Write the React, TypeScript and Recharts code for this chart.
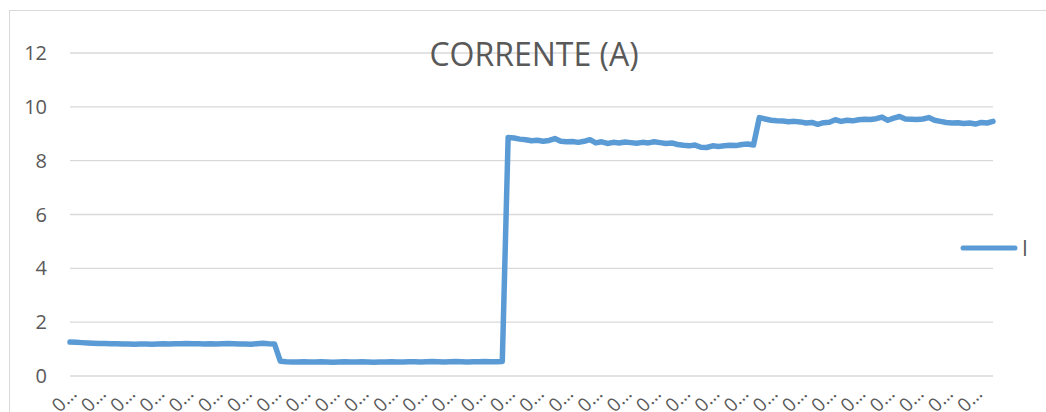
import React from "react";
import { LineChart, Line, XAxis, YAxis, CartesianGrid, Legend } from "recharts";

const chartTitle = "CORRENTE (A)";
const seriesName = "I";
const seriesColor = "#5B9BD5";
const yTicks = [0, 2, 4, 6, 8, 10, 12];
const xTickLabel = "0…";

// Current samples (A), in four operating stages
const stage1 = [
  1.26, 1.25, 1.24, 1.23, 1.22, 1.21, 1.21, 1.2, 1.2, 1.19,
  1.19, 1.18, 1.19, 1.19, 1.18, 1.19, 1.2, 1.19, 1.2, 1.2,
  1.21, 1.2, 1.2, 1.19, 1.2, 1.19, 1.2, 1.21, 1.2, 1.19,
  1.19, 1.18, 1.2, 1.22, 1.2, 1.19,
];
const stage2 = [
  0.55, 0.53, 0.52, 0.52, 0.53, 0.52, 0.52, 0.53, 0.52, 0.51,
  0.52, 0.53, 0.52, 0.52, 0.53, 0.52, 0.51, 0.52, 0.52, 0.53,
  0.52, 0.52, 0.53, 0.53, 0.52, 0.53, 0.54, 0.53, 0.52, 0.53,
  0.54, 0.53, 0.52, 0.53, 0.53, 0.54, 0.53, 0.53, 0.54,
];
const stage3 = [
  8.86, 8.84, 8.8, 8.78, 8.74, 8.76, 8.72, 8.75, 8.82, 8.72,
  8.7, 8.71, 8.68, 8.72, 8.78, 8.66, 8.7, 8.64, 8.68, 8.66,
  8.69, 8.67, 8.65, 8.68, 8.66, 8.7, 8.67, 8.64, 8.66, 8.6,
  8.57, 8.55, 8.58, 8.5, 8.49, 8.55, 8.53, 8.55, 8.57, 8.56,
  8.6, 8.62, 8.58,
];
const stage4 = [
  9.6, 9.55, 9.5, 9.48, 9.47, 9.45, 9.46, 9.44, 9.4, 9.42,
  9.35, 9.41, 9.43, 9.52, 9.46, 9.5, 9.48, 9.52, 9.54, 9.53,
  9.56, 9.62, 9.5, 9.58, 9.64, 9.55, 9.54, 9.53, 9.55, 9.6,
  9.5, 9.46, 9.42, 9.4, 9.41, 9.38, 9.4, 9.36, 9.42, 9.4,
  9.46,
];

const currentValues = [...stage1, ...stage2, ...stage3, ...stage4];
const data = currentValues.map((v, i) => ({ sample: i, [seriesName]: v }));

const FONT = "'Open Sans', 'Noto Sans', sans-serif";
const TEXT = "#595959";

const XTick = (props: any) => {
  const { x, y } = props;
  const px = x + 8;
  const py = y + 19;
  return (
    <text
      x={px}
      y={py}
      transform={`rotate(-45 ${px} ${py})`}
      textAnchor="end"
      fontSize={19}
      fill={TEXT}
      fontFamily={FONT}
    >
      {xTickLabel}
    </text>
  );
};

const LegendContent = () => (
  <svg width={90} height={26} style={{ display: "block", overflow: "visible" }}>
    <line x1={8} y1={12} x2={60} y2={12} stroke={seriesColor} strokeWidth={5} strokeLinecap="round" />
    <text x={67} y={20} fontSize={21} fill={TEXT} fontFamily={FONT}>
      {seriesName}
    </text>
  </svg>
);

export default function App() {
  return (
    <div style={{ position: "relative", width: 1046, height: 412, overflow: "hidden", background: "#fff", fontFamily: FONT }}>
      <style>{`html,body{margin:0;padding:0;overflow:hidden;background:#fff}`}</style>
      <div
        style={{
          position: "absolute",
          left: 9,
          top: 10,
          width: 1200,
          height: 600,
          border: "1.5px solid #d9d9d9",
          boxSizing: "border-box",
        }}
      />
      <div style={{ position: "absolute", left: 0, top: 0 }}>
        <LineChart width={1046} height={412} data={data} margin={{ top: 53, right: 53, bottom: 0, left: 0 }}>
          <CartesianGrid vertical={false} stroke="#d9d9d9" strokeWidth={1.4} />
          <XAxis
            dataKey="sample"
            interval={4}
            tick={<XTick />}
            tickLine={false}
            axisLine={false}
            tickSize={0}
            tickMargin={0}
            height={36}
          />
          <YAxis
            domain={[0, 12]}
            ticks={yTicks}
            interval={0}
            tickLine={false}
            axisLine={false}
            tickSize={0}
            tickMargin={23}
            width={70}
            tick={{ fontSize: 20, fill: TEXT, fontFamily: FONT }}
          />
          <Legend
            layout="horizontal"
            verticalAlign="middle"
            align="right"
            wrapperStyle={{ left: 955, top: 236, width: 0, height: 0, overflow: "visible" }}
            content={<LegendContent />}
          />
          <Line
            type="linear"
            dataKey={seriesName}
            name={seriesName}
            stroke={seriesColor}
            strokeWidth={5.5}
            strokeLinecap="round"
            strokeLinejoin="round"
            dot={false}
            activeDot={false}
            isAnimationActive={false}
          />
        </LineChart>
      </div>
      <svg width={1046} height={412} style={{ position: "absolute", left: 0, top: 0, pointerEvents: "none" }}>
        <text x={534} y={66} textAnchor="middle" fontSize={32} fill={TEXT} fontFamily={FONT}>
          {chartTitle}
        </text>
      </svg>
    </div>
  );
}
